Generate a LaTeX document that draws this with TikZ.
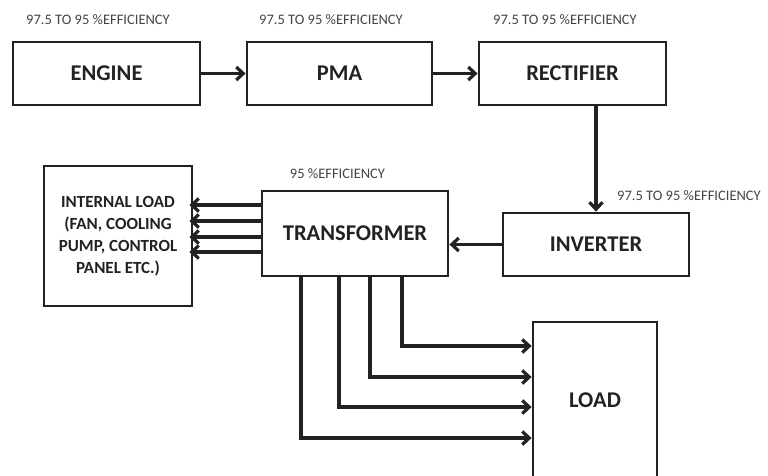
\documentclass[tikz,border=0pt]{standalone}
\usepackage{fontspec}
\setmainfont{Carlito}
\usetikzlibrary{arrows.meta}
\definecolor{ink}{HTML}{222222}
\definecolor{lbl}{HTML}{444444}
\begin{document}
\begin{tikzpicture}[x=1pt,y=-1pt,
  blk/.style={draw=ink,line width=2.8pt,inner sep=0pt,align=center,text=ink,font=\bfseries\fontsize{22.5}{24}\selectfont},
  eff/.style={text=lbl,inner sep=0pt,font=\fontsize{14.5}{16}\selectfont},
  arr/.style={draw=ink,line width=3.2pt,-{Straight Barb[length=7pt,width=13pt]}}]
\useasboundingbox (0,0) rectangle (768,475);
\node[blk,minimum width=187pt,minimum height=63pt] (E) at (106.5,73.5) {ENGINE};
\node[blk,minimum width=185pt,minimum height=63pt] (P) at (339.5,73.5) {PMA};
\node[blk,minimum width=187pt,minimum height=63pt] (R) at (572.5,73.5) {RECTIFIER};
\node[blk,minimum width=186pt,minimum height=63pt] (V) at (596,244.5) {INVERTER};
\node[blk,minimum width=186pt,minimum height=85pt] (T) at (355,233.5) {TRANSFORMER};
\node[blk,minimum width=148pt,minimum height=140pt,font=\bfseries\fontsize{17}{22}\selectfont] (I) at (118,236) {INTERNAL LOAD\\(FAN, COOLING\\PUMP, CONTROL\\PANEL ETC.)};
\node[blk,minimum width=124pt,minimum height=156pt] (L) at (595,400) {LOAD};
\node[eff] (e1) at (98,20) {97.5 TO 95 \%EFFICIENCY};
\node[eff] (e2) at (331,20) {97.5 TO 95 \%EFFICIENCY};
\node[eff] (e3) at (565,20) {97.5 TO 95 \%EFFICIENCY};
\node[eff] (e4) at (689,196) {97.5 TO 95 \%EFFICIENCY};
\node[eff] (e5) at (337.5,174) {95 \%EFFICIENCY};
\draw[arr] (E.east) -- (P.west);
\draw[arr] (P.east) -- (R.west);
\draw[arr] (V.north |- R.south) -- (V.north);
\draw[arr] (V.west) -- (V.west -| T.east);
\foreach \s in {28.5,12.5,-3.5,-18.5}
  \draw[arr,shorten >=-4pt] ([yshift=\s pt]T.west) -- ([yshift=\s pt]T.west -| I.east);
\draw[arr] ([xshift=47pt]T.south) |- ([yshift=54pt]L.west);
\draw[arr] ([xshift=15pt]T.south) |- ([yshift=23pt]L.west);
\draw[arr] ([xshift=-16pt]T.south) |- ([yshift=-7pt]L.west);
\draw[arr] ([xshift=-54pt]T.south) |- ([yshift=-38pt]L.west);
\end{tikzpicture}
\end{document}
